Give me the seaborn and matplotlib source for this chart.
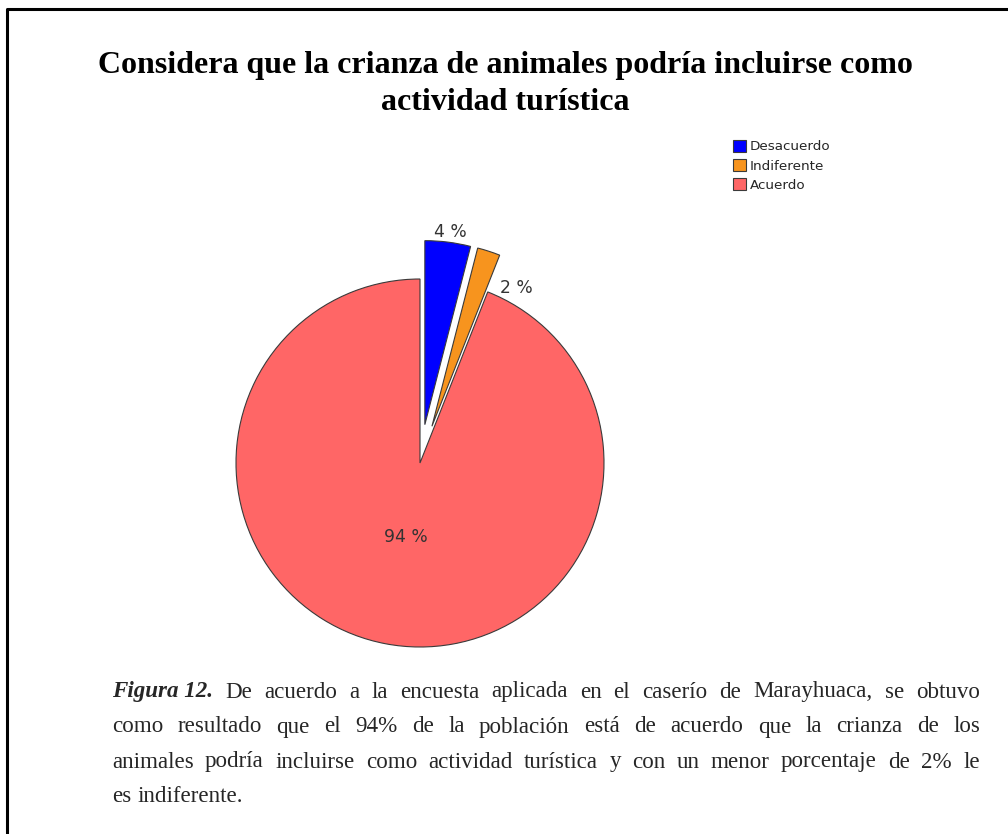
import numpy as np
import matplotlib
matplotlib.use("Agg")
import matplotlib.pyplot as plt
import seaborn as sns
from matplotlib.lines import Line2D

# ---- data ----
categories = ["Desacuerdo", "Indiferente", "Acuerdo"]
values = [4, 2, 94]
colors = ["#0000FF", "#F7941E", "#FF6666"]
explode = [0.21, 0.21, 0.0]

title_text = "Considera que la crianza de animales podría incluirse como\nactividad turística"
caption_lead = "Figura 12."
caption_lines = [
    "De acuerdo a la encuesta aplicada en el caserío de Marayhuaca, se obtuvo",
    "como resultado que el 94% de la población está de acuerdo que la crianza de los",
    "animales podría incluirse como actividad turística y con un menor porcentaje de 2% le",
    "es indiferente.",
]

sns.set_theme(style="white")
plt.rcParams["font.family"] = ["DejaVu Sans"]

W, H = 1008, 834
fig = plt.figure(figsize=(W / 100, H / 100), dpi=100)
fig.patch.set_facecolor("white")

def fx(px):
    return px / W

def fy(py):
    return 1 - py / H

# pie axes: center (420, 463) px, radius 184 px
R = 184.0
cx, cy = 420.0, 463.0
lim = 1.4
half = lim * R
ax = fig.add_axes([fx(cx - half), fy(cy + half), 2 * half / W, 2 * half / H])
wedges, _ = ax.pie(values, colors=colors, explode=explode, startangle=90,
                   counterclock=False, radius=1.0,
                   wedgeprops=dict(edgecolor="#3a3a3a", linewidth=0.8))
ax.set_xlim(-lim, lim)
ax.set_ylim(-lim, lim)
ax.set_aspect("equal")
ax.axis("off")

# percentage labels
total = sum(values)
label_specs = {0: (1.055, -0.5), 1: (0.88, -13.6), 2: (0.41, 0.0)}
for i, w in enumerate(wedges):
    mid = 0.5 * (w.theta1 + w.theta2)
    dist, dang = label_specs[i]
    ex = explode[i]
    ox = ex * np.cos(np.radians(mid))
    oy = ex * np.sin(np.radians(mid))
    ang = np.radians(mid + dang)
    x = ox + dist * np.cos(ang)
    y = oy + dist * np.sin(ang)
    ax.text(x, y, f"{values[i] / total * 100:.0f} %", ha="center", va="center",
            fontsize=12.3, color="#333333", family="DejaVu Sans")

# title
fig.text(fx(505), fy(84), title_text, ha="center", va="center",
         fontsize=23, fontweight="bold", family="Liberation Serif",
         linespacing=1.35, color="black")

# legend
fig.legend(wedges, categories, loc="upper left",
           bbox_to_anchor=(fx(733), fy(140)), frameon=False,
           handlelength=0.95, handleheight=0.95, handletextpad=0.3,
           labelspacing=0.42, borderpad=0, borderaxespad=0,
           prop={"family": "DejaVu Sans", "size": 9.7})

# border (top and left)
fig.add_artist(Line2D([fx(6.5), fx(6.5), 1.0], [0.0, fy(9), fy(9)],
                      transform=fig.transFigure, color="black", linewidth=2.2))

# caption with justification
fig.canvas.draw()
renderer = fig.canvas.get_renderer()
cap_size = 16.6
left_px, right_px = 112.0, 980.0
line_y = [692, 727, 762, 797]

def width_px(t):
    return t.get_window_extent(renderer).width

for li, line in enumerate(caption_lines):
    y = fy(line_y[li])
    words = line.split(" ")
    items = []
    if li == 0:
        t = fig.text(0, y, caption_lead, ha="left", va="center", fontsize=cap_size,
                     family="Liberation Serif", fontweight="bold", style="italic")
        items.append(t)
    for wd in words:
        t = fig.text(0, y, wd, ha="left", va="center", fontsize=cap_size,
                     family="Liberation Serif")
        items.append(t)
    widths = [width_px(t) for t in items]
    if li < len(caption_lines) - 1:
        gap = (right_px - left_px - sum(widths)) / (len(items) - 1)
    else:
        sp = fig.text(0, 0, "a a", fontsize=cap_size, family="Liberation Serif")
        sp2 = fig.text(0, 0, "aa", fontsize=cap_size, family="Liberation Serif")
        gap = width_px(sp) - width_px(sp2)
        sp.remove(); sp2.remove()
    xpos = left_px
    for t, wdt in zip(items, widths):
        t.set_x(fx(xpos))
        xpos += wdt + gap

fig.savefig("out.png", dpi=100, facecolor="white")
